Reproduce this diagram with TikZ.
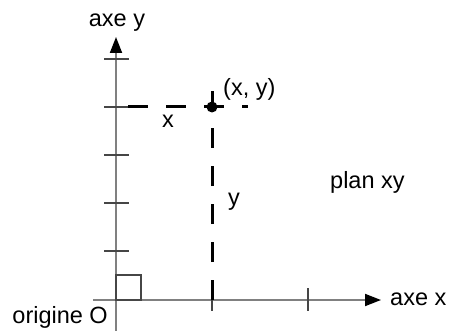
\documentclass[tikz,border=0pt]{standalone}
\usepackage{fontspec}
\setmainfont{Liberation Sans}
\usepackage{tikz}
\usetikzlibrary{arrows.meta,positioning,calc}
\definecolor{gris}{RGB}{128,128,128}
\definecolor{grisoscuro}{RGB}{70,70,70}

\begin{document}
\begin{tikzpicture}[x=1pt,y=-1pt,
  eje/.style={draw=gris,line width=1.8pt,-{Triangle[length=16pt,width=12pt,color=black]}},
  marca/.style={draw=grisoscuro,line width=1.3pt},
  guia/.style={draw=black,line width=3pt,dash pattern=on 20pt off 18pt},
  etiqueta/.style={inner sep=0pt,font=\fontsize{23.5}{27}\selectfont}]
\useasboundingbox (0,0) rectangle (449,331);
\coordinate (O) at (116,300);
\coordinate (P) at (212,107);
\coordinate (ybajo) at (116,331);
\coordinate (ytope) at (116,37);
\coordinate (xizq) at (93,300);
\coordinate (xder) at (381,300);
\draw[eje] (ybajo) -- (ytope);
\draw[eje] (xizq) -- (xder);
\foreach \y in {59,107,155,203,251}
  \draw[marca] (104,\y) -- (129,\y);
\foreach \x in {212,308}
  \draw[marca] (\x,288) -- (\x,311);
\draw[marca] (O) rectangle (141,275);
\draw[guia] (212,300) -- (212,91);
\draw[guia] (128,107) -- (248,107);
\fill (P) circle (5.5pt);
\node[etiqueta,anchor=base] (ejey) at (117,27) {axe y};
\node[etiqueta,anchor=base west] (ejex) at (390,305) {axe x};
\node[etiqueta,anchor=base east] (origen) at (108,323) {origine O};
\node[etiqueta,anchor=base west] (punto) at (223,96) {(x, y)};
\node[etiqueta,anchor=base west] (etx) at (162,128) {x};
\node[etiqueta,anchor=base west] (ety) at (228,205) {y};
\node[etiqueta,anchor=base west] (plano) at (330,188) {plan xy};
\end{tikzpicture}
\end{document}
